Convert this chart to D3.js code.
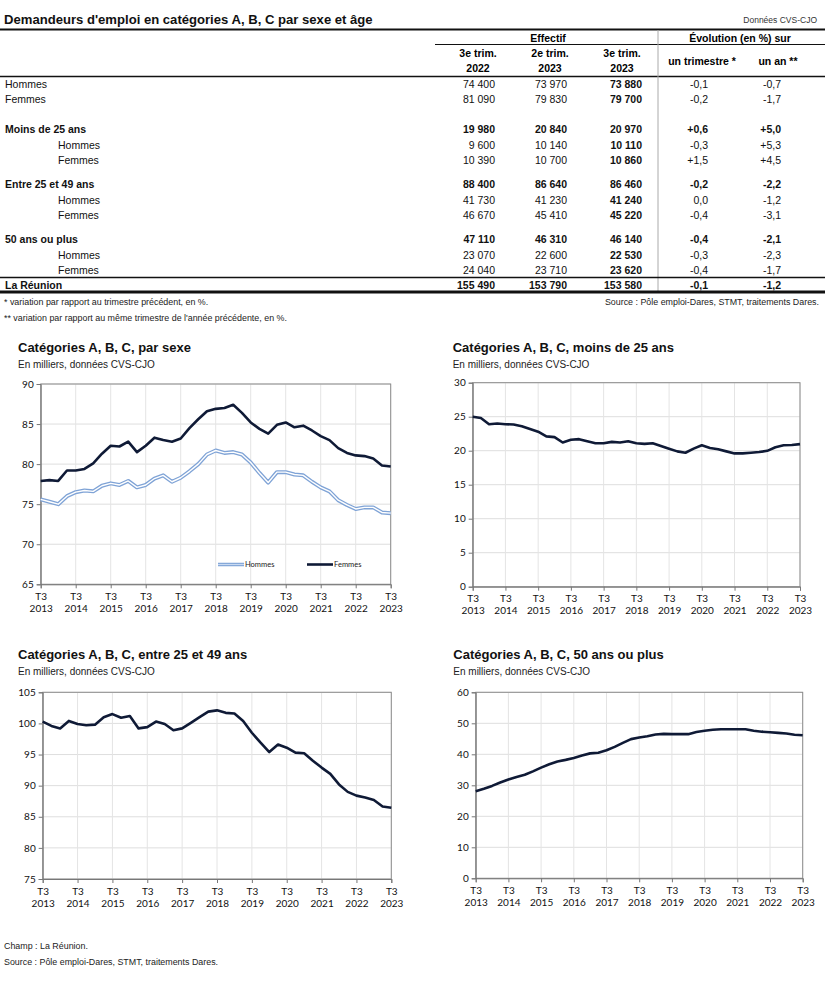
<!DOCTYPE html>
<html><head><meta charset="utf-8">
<script src="https://cdn.jsdelivr.net/npm/d3@7"></script>
<style>
body{margin:0;background:#fff;}
svg{display:block;}
</style></head>
<body>
<svg id="c" width="825" height="1000"></svg>
<script>
// ---------- DATA ----------
const rowLabels = ["Hommes","Femmes","Moins de 25 ans","Hommes","Femmes","Entre 25 et 49 ans","Hommes","Femmes","50 ans ou plus","Hommes","Femmes","La Réunion"];
const rowKind = ["sub0","sub0","group","sub","sub","group","sub","sub","group","sub","sub","total"];
const effT3_2022 = [74400,81090,19980,9600,10390,88400,41730,46670,47110,23070,24040,155490];
const effT2_2023 = [73970,79830,20840,10140,10700,86640,41230,45410,46310,22600,23710,153790];
const effT3_2023 = [73880,79700,20970,10110,10860,86460,41240,45220,46140,22530,23620,153580];
const evolTrim = [-0.1,-0.2,0.6,-0.3,1.5,-0.2,0.0,-0.4,-0.4,-0.3,-0.4,-0.1];
const evolAn = [-0.7,-1.7,5.0,5.3,4.5,-2.2,-1.2,-3.1,-2.1,-2.3,-1.7,-1.2];
const colHeads = [["3e trim.","2022"],["2e trim.","2023"],["3e trim.","2023"]];

const quarters = ["T3 2013","T4 2013","T1 2014","T2 2014","T3 2014","T4 2014","T1 2015","T2 2015","T3 2015","T4 2015",
  "T1 2016","T2 2016","T3 2016","T4 2016","T1 2017","T2 2017","T3 2017","T4 2017","T1 2018","T2 2018",
  "T3 2018","T4 2018","T1 2019","T2 2019","T3 2019","T4 2019","T1 2020","T2 2020","T3 2020","T4 2020",
  "T1 2021","T2 2021","T3 2021","T4 2021","T1 2022","T2 2022","T3 2022","T4 2022","T1 2023","T2 2023","T3 2023"];
const tickQuarters = ["T3 2013","T3 2014","T3 2015","T3 2016","T3 2017","T3 2018","T3 2019","T3 2020","T3 2021","T3 2022","T3 2023"];

const hommes = [75.6,75.3,75.0,76.0,76.5,76.7,76.6,77.3,77.6,77.4,77.9,77.1,77.4,78.2,78.6,77.8,78.3,79.1,80.0,81.2,
  81.7,81.4,81.5,81.2,80.2,78.9,77.7,79.0,79.0,78.7,78.6,77.8,77.1,76.6,75.5,74.9,74.4,74.6,74.6,73.97,73.88];
const femmes = [77.9,78.0,77.9,79.2,79.2,79.4,80.1,81.3,82.3,82.2,82.8,81.5,82.3,83.3,83.0,82.8,83.2,84.5,85.6,86.6,
  86.9,87.0,87.4,86.4,85.2,84.4,83.8,84.9,85.2,84.6,84.8,84.2,83.5,83.0,82.0,81.4,81.09,81.0,80.7,79.83,79.7];
const moins25 = [25.0,24.8,23.9,24.0,23.9,23.85,23.6,23.2,22.8,22.1,22.0,21.2,21.6,21.7,21.4,21.1,21.1,21.3,21.2,21.4,
  21.1,21.0,21.1,20.7,20.3,19.9,19.7,20.3,20.8,20.4,20.2,19.9,19.6,19.6,19.7,19.8,19.98,20.5,20.8,20.84,20.97];
const entre25_49 = [100.3,99.6,99.2,100.4,99.9,99.7,99.8,101.0,101.5,100.9,101.2,99.2,99.4,100.3,99.9,98.9,99.2,100.1,101.0,101.9,
  102.1,101.7,101.6,100.4,98.5,96.9,95.4,96.6,96.1,95.3,95.2,94.0,92.9,91.9,90.2,89.0,88.4,88.1,87.7,86.64,86.46];
const plus50 = [28.1,28.9,29.8,30.9,31.9,32.7,33.4,34.5,35.7,36.8,37.7,38.2,38.8,39.6,40.3,40.5,41.3,42.4,43.7,44.9,
  45.4,45.8,46.4,46.6,46.5,46.5,46.5,47.2,47.6,47.9,48.1,48.1,48.1,48.1,47.6,47.3,47.11,46.9,46.7,46.31,46.14];

// ---------- DRAW ----------
const svg = d3.select("#c");
const F = "'Liberation Sans', Arial, sans-serif";
const FC = "Lato, 'Open Sans', sans-serif";

// ---- Table ----
svg.append("text").attr("x",4).attr("y",24).attr("font-family",F).attr("font-weight","bold").attr("font-size",13.1)
  .attr("fill","#111").text("Demandeurs d'emploi en catégories A, B, C par sexe et âge");
svg.append("text").attr("x",817).attr("y",23).attr("text-anchor","end").attr("font-family",F).attr("font-size",8.5)
  .attr("fill","#333").text("Données CVS-CJO");

function hline(x1,x2,y,w,c){svg.append("line").attr("x1",x1).attr("x2",x2).attr("y1",y).attr("y2",y).attr("stroke",c||"#111").attr("stroke-width",w);}
hline(0,825,29.5,2);
hline(435,825,44.5,1);
hline(0,825,76.5,1.5);
svg.append("line").attr("x1",658).attr("x2",658).attr("y1",30).attr("y2",291).attr("stroke","#aaa").attr("stroke-width",1);

svg.append("text").attr("x",548).attr("y",38).attr("text-anchor","middle").attr("dominant-baseline","central")
  .attr("font-family",F).attr("font-weight","bold").attr("font-size",10.5).text("Effectif");
svg.append("text").attr("x",740).attr("y",38).attr("text-anchor","middle").attr("dominant-baseline","central")
  .attr("font-family",F).attr("font-weight","bold").attr("font-size",10.5).text("Évolution (en %) sur");
const colCenters = [478,550,622];
const colRight = [495,567,642];
colHeads.forEach((h,i)=>{
  h.forEach((t,j)=>svg.append("text").attr("x",colCenters[i]).attr("y",53+j*15).attr("text-anchor","middle").attr("dominant-baseline","central")
    .attr("font-family",F).attr("font-weight","bold").attr("font-size",10.5).text(t));
});
svg.append("text").attr("x",702).attr("y",61).attr("text-anchor","middle").attr("dominant-baseline","central")
  .attr("font-family",F).attr("font-weight","bold").attr("font-size",10.5).text("un trimestre *");
svg.append("text").attr("x",778).attr("y",61).attr("text-anchor","middle").attr("dominant-baseline","central")
  .attr("font-family",F).attr("font-weight","bold").attr("font-size",10.5).text("un an **");

const rowY = [84,99,129,145,160,184,200,215,239,255,270,285];
const fmtN = v => d3.format(",")(v).split(",").join(" ");
const fmtP = v => { let s = Math.abs(v).toFixed(1).replace(".",","); if (v>0) s = "+"+s; else if (v<0) s = "-"+s; return s; };

hline(0,825,277.5,1.5);
hline(0,825,292,3);

rowLabels.forEach((lab,i)=>{
  const kind = rowKind[i];
  const bold = (kind==="group"||kind==="total");
  const g = svg.append("g").attr("font-family",F).attr("font-size",10.5).attr("fill","#111");
  g.append("text").attr("x", kind==="sub" ? 58 : 5).attr("y",rowY[i]).attr("dominant-baseline","central")
    .attr("font-weight", bold?"bold":"normal").text(lab);
  [effT3_2022,effT2_2023,effT3_2023].forEach((arr,c)=>{
    g.append("text").attr("x",colRight[c]).attr("y",rowY[i]).attr("text-anchor","end").attr("dominant-baseline","central")
      .attr("font-weight",(bold||c===2)?"bold":"normal").text(fmtN(arr[i]));
  });
  g.append("text").attr("x",708).attr("y",rowY[i]).attr("text-anchor","end").attr("dominant-baseline","central")
    .attr("font-weight",bold?"bold":"normal").text(fmtP(evolTrim[i]));
  g.append("text").attr("x",781).attr("y",rowY[i]).attr("text-anchor","end").attr("dominant-baseline","central")
    .attr("font-weight",bold?"bold":"normal").text(fmtP(evolAn[i]));
});

svg.append("text").attr("x",4).attr("y",302).attr("dominant-baseline","central").attr("font-family",F).attr("font-size",8.9)
  .attr("fill","#222").text("* variation par rapport au trimestre précédent, en %.");
svg.append("text").attr("x",4).attr("y",318).attr("dominant-baseline","central").attr("font-family",F).attr("font-size",8.9)
  .attr("fill","#222").text("** variation par rapport au même trimestre de l'année précédente, en %.");
svg.append("text").attr("x",819).attr("y",302).attr("text-anchor","end").attr("dominant-baseline","central").attr("font-family",F).attr("font-size",8.9)
  .attr("fill","#222").text("Source : Pôle emploi-Dares, STMT, traitements Dares.");

// ---- Charts ----
function chart(cfg){
  const g = svg.append("g");
  g.append("text").attr("x",cfg.tx).attr("y",cfg.ty).attr("font-family",F).attr("font-weight","bold").attr("font-size",13)
    .attr("fill","#111").text(cfg.title);
  g.append("text").attr("x",cfg.tx).attr("y",cfg.ty+16).attr("font-family",F).attr("font-size",10)
    .attr("fill","#222").text("En milliers, données CVS-CJO");
  const x = d3.scalePoint().domain(quarters).range([cfg.l,cfg.r]);
  const y = d3.scaleLinear().domain(cfg.dom).range([cfg.b,cfg.t]);
  const yt = d3.range(cfg.dom[0],cfg.dom[1]+0.001,cfg.step);
  g.selectAll(".gy").data(yt).join("line").attr("x1",cfg.l).attr("x2",cfg.r).attr("y1",d=>y(d)).attr("y2",d=>y(d))
    .attr("stroke","#dedede").attr("stroke-width",1);
  g.selectAll(".gx").data(tickQuarters).join("line").attr("x1",d=>x(d)).attr("x2",d=>x(d)).attr("y1",cfg.t).attr("y2",cfg.b)
    .attr("stroke","#e4e4e4").attr("stroke-width",1);
  g.append("rect").attr("x",cfg.l).attr("y",cfg.t).attr("width",cfg.r-cfg.l).attr("height",cfg.b-cfg.t)
    .attr("fill","none").attr("stroke","#8c8c8c").attr("stroke-width",1);
  const ya = g.append("g").attr("transform",`translate(${cfg.l},0)`)
    .call(d3.axisLeft(y).tickValues(yt).tickSize(4).tickPadding(3).tickFormat(d3.format("d")));
  ya.select(".domain").attr("stroke","#777");
  ya.selectAll(".tick line").attr("stroke","#777");
  ya.selectAll("text").attr("font-family",FC).attr("font-size",10).attr("fill","#111");
  const xa = g.append("g").attr("transform",`translate(0,${cfg.b})`)
    .call(d3.axisBottom(x).tickValues(tickQuarters).tickSize(4).tickPadding(2).tickFormat(""));
  xa.select(".domain").attr("stroke","#777");
  xa.selectAll(".tick line").attr("stroke","#777");
  xa.selectAll(".tick").each(function(d){
    const parts = d.split(" ");
    const t = d3.select(this).append("text").attr("font-family",FC).attr("font-size",10).attr("fill","#111").attr("text-anchor","middle");
    t.append("tspan").attr("x",0).attr("y",15.5).text(parts[0]);
    t.append("tspan").attr("x",0).attr("y",27.5).text(parts[1]);
  });
  const line = d3.line().x((d,i)=>x(quarters[i])).y(d=>y(d));
  cfg.series.forEach(s=>{
    if (s.double){
      g.append("path").attr("d",line(s.values)).attr("fill","none").attr("stroke","#7fa3d6").attr("stroke-width",4).attr("stroke-linejoin","round");
      g.append("path").attr("d",line(s.values)).attr("fill","none").attr("stroke","#ffffff").attr("stroke-width",1.4).attr("stroke-linejoin","round");
    } else {
      g.append("path").attr("d",line(s.values)).attr("fill","none").attr("stroke","#0f1a36").attr("stroke-width",2.6).attr("stroke-linejoin","round");
    }
  });
  if (cfg.legend){
    cfg.legend.forEach(L=>{
      const s = cfg.series.find(z=>z.name===L.name);
      if (s.double){
        g.append("line").attr("x1",L.x).attr("x2",L.x+26).attr("y1",L.y).attr("y2",L.y).attr("stroke","#7fa3d6").attr("stroke-width",3.5);
        g.append("line").attr("x1",L.x).attr("x2",L.x+26).attr("y1",L.y).attr("y2",L.y).attr("stroke","#c9daf2").attr("stroke-width",1.2);
      } else {
        g.append("line").attr("x1",L.x).attr("x2",L.x+26).attr("y1",L.y).attr("y2",L.y).attr("stroke","#0f1a36").attr("stroke-width",2.6);
      }
      g.append("text").attr("x",L.x+27).attr("y",L.y).attr("dominant-baseline","central").attr("font-family",FC).attr("font-size",7.5)
        .attr("fill","#222").text(L.name);
    });
  }
}

chart({title:"Catégories A, B, C, par sexe", tx:18, ty:352, l:40.7, r:390.7, t:384, b:584.3, dom:[65,90], step:5,
  series:[{name:"Hommes",values:hommes,double:true},{name:"Femmes",values:femmes}],
  legend:[{name:"Hommes",x:218,y:564.5},{name:"Femmes",x:307,y:564.5}]});
chart({title:"Catégories A, B, C, moins de 25 ans", tx:452.7, ty:352, l:472.7, r:800, t:382.7, b:586.7, dom:[0,30], step:5,
  series:[{name:"Moins de 25 ans",values:moins25}]});
chart({title:"Catégories A, B, C, entre 25 et 49 ans", tx:18, ty:659, l:42.7, r:391.3, t:692.3, b:879, dom:[75,105], step:5,
  series:[{name:"Entre 25 et 49 ans",values:entre25_49}]});
chart({title:"Catégories A, B, C, 50 ans ou plus", tx:453.3, ty:659, l:475.7, r:802.7, t:692.3, b:878.3, dom:[0,60], step:10,
  series:[{name:"50 ans ou plus",values:plus50}]});

svg.append("text").attr("x",4).attr("y",946).attr("dominant-baseline","central").attr("font-family",F).attr("font-size",8.9)
  .attr("fill","#222").text("Champ : La Réunion.");
svg.append("text").attr("x",4).attr("y",962).attr("dominant-baseline","central").attr("font-family",F).attr("font-size",8.9)
  .attr("fill","#222").text("Source : Pôle emploi-Dares, STMT, traitements Dares.");
</script>
</body></html>
